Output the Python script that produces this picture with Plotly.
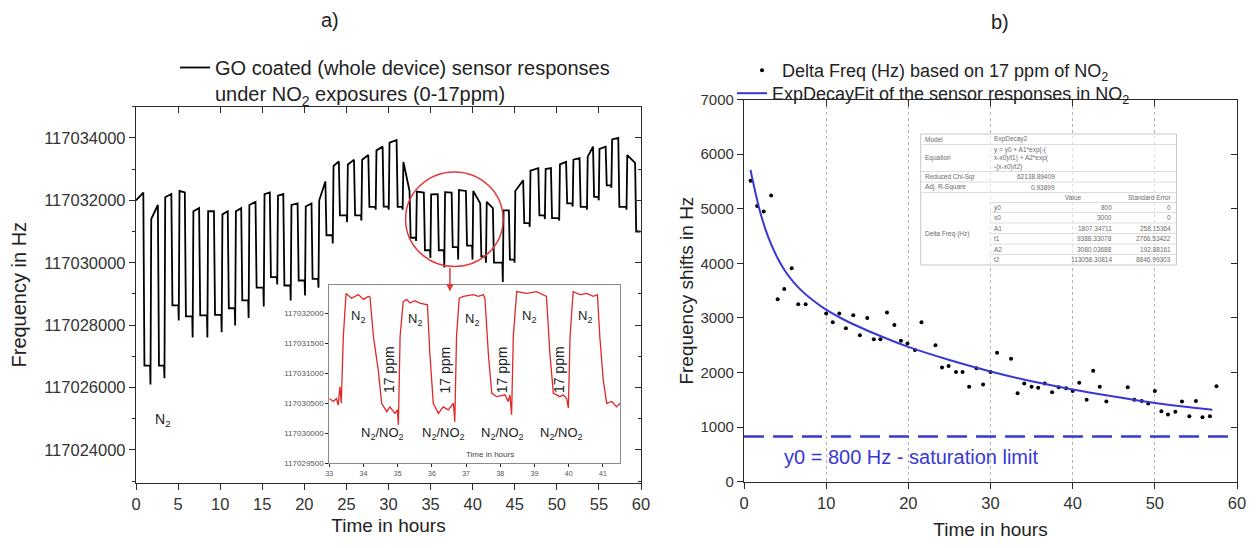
import plotly.graph_objects as go

# page is drawn with an 8px body margin, so the figure is 8px smaller and shifted
OFF = 8
W, H = 1259 - OFF, 548 - OFF

# ---------------- panel a) : GO coated sensor responses ----------------
# one entry per N2 / NO2 cycle (hours, Hz)
rise_h = [0.0, 1.74, 3.40, 5.10, 6.75, 8.50, 10.20, 11.80, 13.40, 15.20, 16.80, 18.40,
          20.10, 21.70, 23.40, 25.10, 26.80, 28.50, 30.05, 31.70, 33.30, 35.00, 36.65, 38.30,
          40.00, 41.60, 43.60, 45.00, 46.80, 48.60, 50.30, 51.90, 53.60, 55.00, 56.50, 58.30]
drop_h = [0.87, 2.60, 4.20, 5.80, 7.50, 9.26, 10.90, 12.50, 14.20, 15.90, 17.50, 19.20,
          20.85, 22.50, 24.10, 25.90, 27.60, 29.30, 30.96, 32.50, 34.20, 35.85, 37.50, 39.20,
          40.90, 42.40, 44.30, 46.00, 47.80, 49.30, 51.10, 52.70, 54.30, 55.80, 57.30, 59.30]
high_start_hz = [117032000, 117031400, 117032100, 117032300, 117031650, 117031650, 117031550, 117031650,
                 117031850, 117032200, 117032150, 117031850, 117031800, 117032000, 117033100, 117033150,
                 117033300, 117033600, 117033850, 117033230, 117032280, 117032190, 117032260, 117032330,
                 117032300, 117031950, 117031680, 117032300, 117032950, 117033000, 117033150, 117033300,
                 117033400, 117033650, 117033950, 117033450]
high_end_hz = [117032250, 117031850, 117032200, 117032250, 117031750, 117031650, 117031650, 117031750,
               117031950, 117032250, 117032200, 117031900, 117031900, 117032600, 117033250, 117033300,
               117033450, 117033720, 117033930, 117032300, 117032250, 117032200, 117032250, 117032300,
               117031900, 117031750, 117031680, 117032640, 117033030, 117033030, 117033230, 117033350,
               117033720, 117033720, 117034000, 117033200]
low_hz = [117026700, 117026700, 117028630, 117028280, 117028310, 117028330, 117028540, 117028790,
          117029200, 117029540, 117029270, 117029430, 117029480, 117030880, 117031520, 117031520,
          117031790, 117031800, 117031790, 117030800, 117030400, 117030400, 117030500, 117030550,
          117030200, 117030000, 117030100, 117031270, 117031520, 117031430, 117031900, 117031790,
          117032110, 117032480, 117031790, 117031000]
spike_hz = [117026100, 117026300, 117028150, 117027600, 117027600, 117027770, 117027990, 117028230,
            117028600, 117029300, 117028790, 117028950, 117029200, 117030620, 117031300, 117031350,
            117031700, 117031700, 117031700, 117030700, 117030150, 117029850, 117030100, 117030100,
            117030000, 117029380, 117030000, 117031150, 117031400, 117031350, 117031800, 117031700,
            117032000, 117032400, 117031700, 117030900]

# inset (33 - 41.5 h), red trace
inset_t = [33.00, 33.12, 33.21, 33.26, 33.31, 33.35, 33.41, 33.49, 33.65, 33.85, 34.00, 34.14, 34.19,
           34.29, 34.43, 34.53, 34.68, 34.77, 34.92, 34.99, 35.02, 35.07, 35.16, 35.26, 35.36, 35.50,
           35.65, 35.87, 35.94, 36.04, 36.19, 36.33, 36.48, 36.63, 36.67, 36.72, 36.80, 36.92, 37.21,
           37.36, 37.50, 37.55, 37.65, 37.75, 37.89, 38.14, 38.23, 38.28, 38.33, 38.38, 38.48, 38.77,
           39.06, 39.26, 39.35, 39.45, 39.55, 39.74, 39.84, 39.94, 39.99, 40.04, 40.13, 40.33, 40.52,
           40.72, 40.84, 40.91, 41.01, 41.11, 41.26, 41.40, 41.50]
inset_f = [117030580, 117030530, 117030580, 117030470, 117030780, 117030500, 117031610, 117032330,
           117032250, 117032310, 117032230, 117032280, 117032270, 117031610, 117031060, 117030500,
           117030360, 117030440, 117030330, 117030390, 117030140, 117031610, 117032190, 117032230,
           117032170, 117032210, 117032170, 117032140, 117031330, 117030500, 117030330, 117030440,
           117030390, 117030500, 117030190, 117031610, 117032250, 117032280, 117032310, 117032280,
           117032310, 117032250, 117031330, 117030670, 117030610, 117030640, 117030530, 117030640,
           117030310, 117031610, 117032360, 117032330, 117032360, 117032310, 117032280, 117031330,
           117030670, 117030610, 117030640, 117030580, 117030420, 117031610, 117032360, 117032310,
           117032330, 117032280, 117032310, 117031610, 117030890, 117030500, 117030530, 117030440,
           117030500]

# ---------------- panel b) : frequency shifts ----------------
delta_t = [0.8, 1.6, 2.4, 3.3, 4.1, 4.9, 5.8, 6.6, 7.5, 10.0, 10.8, 11.6, 12.4, 13.3, 14.1, 15.0,
           15.8, 16.6, 17.4, 18.3, 19.1, 19.9, 20.8, 21.6, 23.3, 24.1, 24.9, 25.8, 26.6, 27.4, 28.3,
           29.1, 30.0, 30.8, 32.5, 33.3, 34.1, 35.0, 35.8, 36.6, 37.5, 38.3, 39.2, 40.0, 40.8, 41.7,
           42.5, 43.3, 44.1, 46.7, 47.5, 48.4, 49.2, 50.0, 50.8, 51.6, 52.5, 53.3, 54.2, 55.0, 55.8,
           56.7, 57.5]
delta_f = [5510, 5050, 4950, 5240, 3340, 3530, 3910, 3250, 3250, 3080, 2920, 3080, 2810, 3050, 2680,
           3000, 2610, 2610, 3100, 2870, 2580, 2530, 2410, 2920, 2500, 2090, 2120, 2010, 2010, 1740,
           2080, 1780, 2010, 2360, 2250, 1620, 1800, 1740, 1720, 1800, 1640, 1730, 1710, 1660, 1810,
           1500, 2030, 1740, 1470, 1730, 1500, 1480, 1430, 1660, 1290, 1230, 1280, 1470, 1200, 1480,
           1180, 1200, 1750]
fit_t = [0.8, 1, 2, 3, 4, 5, 6, 7, 8, 10, 12, 15, 20, 25, 30, 35, 40, 45, 50, 55, 57]
fit_f = [5710, 5560, 4920, 4460, 4120, 3860, 3660, 3500, 3370, 3150, 2980, 2770, 2470, 2230, 2020,
         1840, 1690, 1560, 1440, 1350, 1320]
saturation_hz = 830

table_left = ["Model", "Equation", "Reduced Chi-Sqr", "Adj. R-Square", "Delta Freq (Hz)"]
table_eq = ["ExpDecay2", "y = y0 + A1*exp(-(", "x-x0)/t1) + A2*exp(", "-(x-x0)/t2)"]
table_stats = ["62138.89409", "0.93899"]
param_names = ["y0", "x0", "A1", "t1", "A2", "t2"]
param_values = ["800", "3000", "1807.34711", "9388.33078", "3080.03688", "113058.30814"]
param_errors = ["0", "0", "258.15364", "2766.53422", "192.88161", "8846.99303"]

# ---------------- build main response path from cycle table ----------------
resp_t, resp_f = [rise_h[0]], [high_start_hz[0]]
n = len(rise_h)
for i in range(n):
    if i > 0:
        resp_t.append(rise_h[i] + 0.07)
        resp_f.append(high_start_hz[i])
    resp_t.append(drop_h[i])
    resp_f.append(high_end_hz[i])
    nxt = rise_h[i + 1] if i + 1 < n else 60.0
    resp_t += [drop_h[i] + 0.13, nxt - 0.07]
    resp_f += [low_hz[i], low_hz[i]]
    if i + 1 < n:
        resp_t.append(nxt - 0.02)
        resp_f.append(spike_hz[i])


def fx(p):
    return (p - OFF) / W


def fy(p):
    return 1 - (p - OFF) / H


FONT = "Liberation Sans, Arial, sans-serif"
AX = "#2a2a2a"
BLUE = "#3838d4"
RED = "#e03a3a"

fig = go.Figure()
fig.add_trace(go.Scatter(
    x=resp_t, y=resp_f, mode="lines", line=dict(color="black", width=1.8),
    name="GO coated (whole device) sensor responses<br>under NO<sub>2</sub> exposures (0-17ppm)",
    xaxis="x", yaxis="y", legend="legend", hoverinfo="skip"))
fig.add_trace(go.Scatter(
    x=inset_t, y=inset_f, mode="lines", line=dict(color="#e02828", width=1.3),
    showlegend=False, xaxis="x3", yaxis="y3", hoverinfo="skip"))
fig.add_trace(go.Scatter(
    x=delta_t, y=delta_f, mode="markers", marker=dict(color="black", size=4),
    name="Delta Freq (Hz) based on 17 ppm of NO<sub>2</sub>", xaxis="x2", yaxis="y2",
    legend="legend2"))
fig.add_trace(go.Scatter(
    x=fit_t, y=fit_f, mode="lines", line=dict(color=BLUE, width=2, shape="spline"),
    name="ExpDecayFit of the sensor responses in NO<sub>2</sub>", xaxis="x2", yaxis="y2",
    legend="legend3"))
# empty traces so the mirrored (top / right) tick axes get drawn
fig.add_trace(go.Scatter(x=[], y=[], xaxis="x4", yaxis="y4", showlegend=False, hoverinfo="skip"))
fig.add_trace(go.Scatter(x=[], y=[], xaxis="x5", yaxis="y5", showlegend=False, hoverinfo="skip"))

tickfont = dict(family=FONT, size=16.5, color="#333")
common = dict(showline=True, linecolor=AX, linewidth=1.3, zeroline=False, showgrid=False,
              tickcolor=AX, automargin=False)
title_font = dict(size=19, family=FONT, color="#222")

ya_range = [117022950, 117035000]
layout = dict(
    width=W, height=H, margin=dict(l=0, r=0, t=0, b=0),
    paper_bgcolor="white", plot_bgcolor="rgba(0,0,0,0)",
    font=dict(family=FONT, color="#222"),
    xaxis=dict(domain=[fx(136), fx(641)], range=[0, 60], anchor="y", tickmode="linear",
               tick0=0, dtick=5, ticks="outside", ticklen=6, tickfont=tickfont,
               title=dict(text="Time in hours", font=title_font, standoff=7), **common),
    yaxis=dict(domain=[fy(482.7), fy(106.7)], range=ya_range, anchor="x", tickmode="linear",
               tick0=117024000, dtick=2000, tickformat="d", ticks="outside", ticklen=6,
               minor=dict(ticks="outside", dtick=1000, tick0=117023000, ticklen=3, tickcolor=AX),
               tickfont=tickfont,
               title=dict(text="Frequency in Hz", font=dict(size=20, family=FONT, color="#222"),
                          standoff=14), **common),
    xaxis4=dict(overlaying="x", side="top", anchor="y", range=[0, 60], tickmode="linear",
                tick0=0, dtick=5, ticks="inside", ticklen=6, showticklabels=False, **common),
    yaxis4=dict(overlaying="y", side="right", anchor="x", range=ya_range, tickmode="linear",
                tick0=117024000, dtick=2000, ticks="inside", ticklen=6, showticklabels=False,
                minor=dict(ticks="inside", dtick=1000, tick0=117023000, ticklen=3, tickcolor=AX),
                **common),
    xaxis2=dict(domain=[fx(744), fx(1237)], range=[0, 60], anchor="y2", tickmode="linear",
                tick0=0, dtick=10, ticks="outside", ticklen=6, tickfont=tickfont,
                title=dict(text="Time in hours", font=title_font, standoff=12),
                **{**common, "showgrid": True}, gridcolor="#b0b0b0", griddash="dot", gridwidth=1),
    yaxis2=dict(domain=[fy(481.7), fy(99.5)], range=[0, 7000], anchor="x2", tickmode="linear",
                tick0=0, dtick=1000, ticks="outside", ticklen=6,
                tickfont=dict(family=FONT, size=15, color="#333"),
                title=dict(text="Frequency shifts in Hz", font=title_font, standoff=1), **common),
    xaxis5=dict(overlaying="x2", side="top", anchor="y2", range=[0, 60], tickmode="linear",
                tick0=0, dtick=10, ticks="inside", ticklen=6, showticklabels=False, **common),
    yaxis5=dict(overlaying="y2", side="right", anchor="x2", range=[0, 7000], tickmode="linear",
                tick0=0, dtick=1000, ticks="inside", ticklen=6, showticklabels=False, **common),
    xaxis3=dict(domain=[fx(329.3), fx(620)], range=[33, 41.5], anchor="y3", tickmode="linear",
                tick0=33, dtick=1, ticks="outside", ticklen=3, mirror=True,
                tickfont=dict(family=FONT, size=7, color="#555"),
                **{**common, "linecolor": "#8a8a8a", "linewidth": 1}),
    yaxis3=dict(domain=[fy(463.3), fy(285)], range=[117029500, 117032470], anchor="x3",
                tickmode="linear", tick0=117029500, dtick=500, tickformat="d", ticks="outside",
                ticklen=3, mirror=True, tickfont=dict(family=FONT, size=8, color="#555"),
                **{**common, "linecolor": "#8a8a8a", "linewidth": 1}),
    legend=dict(x=fx(175), y=fy(48), xanchor="left", yanchor="top", valign="top",
                font=dict(family=FONT, size=20, color="#222"), bgcolor="rgba(0,0,0,0)"),
    legend2=dict(x=fx(742), y=fy(52), xanchor="left", yanchor="top",
                 font=dict(family=FONT, size=18, color="#222"), bgcolor="rgba(0,0,0,0)"),
    legend3=dict(x=fx(732), y=fy(75), xanchor="left", yanchor="top",
                 font=dict(family=FONT, size=18, color="#222"), bgcolor="rgba(0,0,0,0)"),
)
fig.update_layout(**layout)


def note(x, y, text, size, color="#222", xanchor="center", **kw):
    fig.add_annotation(x=fx(x), y=fy(y), xref="paper", yref="paper", text=text, showarrow=False,
                       xanchor=xanchor, yanchor="middle",
                       font=dict(family=FONT, size=size, color=color), **kw)


# ---------- panel a) decorations ----------
fig.add_shape(type="circle", xref="x", yref="y", x0=32.03, x1=43.62, y0=117029880, y1=117032910,
              line=dict(color=RED, width=1.5))
fig.add_annotation(x=37.3, y=117029080, ax=37.3, ay=117029880, xref="x", yref="y",
                   axref="x", ayref="y", text="", showarrow=True, arrowhead=2, arrowsize=1,
                   arrowwidth=1.5, arrowcolor=RED)
fig.add_annotation(x=3.2, y=117024950, xref="x", yref="y", text="N<sub>2</sub>", showarrow=False,
                   font=dict(family=FONT, size=14, color="#222"))

N2 = "N<sub>2</sub>"
for t, f in zip([33.85, 35.52, 37.17, 38.83, 40.48],
                [117031950, 117031890, 117031890, 117031950, 117031950]):
    fig.add_annotation(x=t, y=f, xref="x3", yref="y3", text=N2, showarrow=False,
                       font=dict(family=FONT, size=13, color="#222"))
for t in [34.73, 36.38, 38.04, 39.70]:
    fig.add_annotation(x=t, y=117031060, xref="x3", yref="y3", text="17 ppm", showarrow=False,
                       textangle=-90, font=dict(family=FONT, size=14, color="#222"))
for t in [34.55, 36.33, 38.05, 39.8]:
    fig.add_annotation(x=t, y=117030000, xref="x3", yref="y3",
                       text="N<sub>2</sub>/NO<sub>2</sub>", showarrow=False,
                       font=dict(family=FONT, size=13, color="#222"))
note(490, 455, "Time in hours", 8, "#444")

# ---------- panel b) decorations ----------
fig.add_shape(type="line", xref="x2 domain", yref="y2", x0=0, x1=1, y0=saturation_hz,
              y1=saturation_hz, line=dict(color=BLUE, width=2.5, dash="20px,9px"))
note(782, 457, "y0 = 800 Hz - saturation limit", 20, BLUE, xanchor="left")

# fit-report table
TC = "#6a6a6a"
TS = 6.5
tl, tr, tt, tb = 920.7, 1176.5, 134, 265
fig.add_shape(type="rect", xref="paper", yref="paper", x0=fx(tl), x1=fx(tr), y0=fy(tb), y1=fy(tt),
              line=dict(color="#c8c8c8", width=1), fillcolor="rgba(255,255,255,0.6)")
for yy in [144.5, 171.5, 182, 192.5]:
    fig.add_shape(type="line", xref="paper", yref="paper", x0=fx(tl), x1=fx(tr), y0=fy(yy),
                  y1=fy(yy), line=dict(color="#d4d4d4", width=0.8))
for yy in [202.5, 212.5, 223, 233.5, 244, 254.5]:
    fig.add_shape(type="line", xref="paper", yref="paper", x0=fx(990), x1=fx(tr), y0=fy(yy),
                  y1=fy(yy), line=dict(color="#d4d4d4", width=0.8))

for txt, yy in zip(table_left, [139.3, 158.3, 176.7, 187.3, 234]):
    note(923, yy, txt, TS, TC, "left")
for txt, yy in zip(table_eq, [139.3, 149.8, 158.3, 166.8]):
    note(992, yy, txt, TS, TC, "left")
for txt, yy in zip(table_stats, [176.7, 187.3]):
    note(1057, yy, txt, TS, TC, "right")
note(1073, 197.7, "Value", TS, TC)
note(1173, 197.7, "Standard Error", TS, TC, "right")
for k, yy in enumerate([207.5, 217.8, 228.2, 238.7, 249.2, 259.6]):
    note(992, yy, param_names[k], TS, TC, "left")
    note(1114, yy, param_values[k], TS, TC, "right")
    note(1173, yy, param_errors[k], TS, TC, "right")

# panel labels
note(330, 20, "a)", 20)
note(1000, 22, "b)", 20)

fig.write_html("out.html")
